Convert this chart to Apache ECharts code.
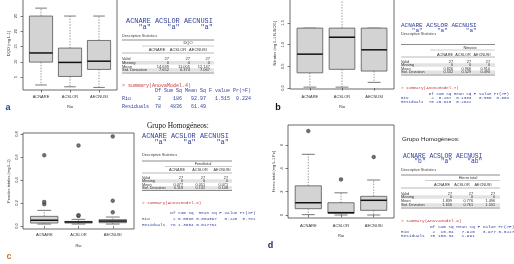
<!DOCTYPE html>
<html>
<head>
<meta charset="utf-8">
<script src="https://cdn.jsdelivr.net/npm/echarts@6/dist/echarts.min.js"></script>
<style>
  html, body { margin: 0; padding: 0; background: #fff; }
  #chart { width: 514px; height: 264px; }
</style>
</head>
<body>
<div id="chart"></div>
<script>
const categories = ['ACNARE', 'ACSLOR', 'AECNUSI'];

// boxplots: [min, Q1, median, Q3, max] per river
const dqoBox = [[2.4, 9.9, 12.9, 25, 27.6], [1.8, 5.2, 9.8, 14.5, 25], [1.6, 7.5, 10.2, 17, 25]];
const dqoOut = [[], [], []];
const nitBox = [[0.02, 0.35, 0.78, 1.38, 1.38], [0.02, 0.43, 1.17, 1.38, 2.05], [0.13, 0.39, 0.88, 1.38, 1.38]];
const nitOut = [[], [], []];
const fenBox = [[0.017, 0.026, 0.05, 0.084, 0.136], [0.017, 0.026, 0.035, 0.04, 0.058], [0.017, 0.029, 0.043, 0.055, 0.078]];
const fenOut = [[0.19, 0.21, 0.615], [0.088, 0.095, 0.70], [0.12, 0.22, 0.78]];
const hieBox = [[0.03, 0.54, 1.05, 2.5, 5.2], [0.0, 0.15, 0.2, 1.05, 1.9], [0.0, 0.4, 1.26, 1.6, 3.0]];
const hieOut = [[7.2], [3.05], [4.97]];

const dqoTicks = [5, 10, 15, 20, 25];
const nitTicks = [0, 0.5, 1, 1.5];
const fenTicks = [0, 0.2, 0.4, 0.6, 0.8];
const hieTicks = [0, 2, 4, 6];

// homogeneous groups
const dqoGroups = ['"a"', '"a"', '"a"'];
const nitGroups = ['"a"', '"a"', '"a"'];
const fenGroups = ['"a"', '"a"', '"a"'];
const hieGroups = ['"b"', '"a"', '"ab"'];

// descriptive statistics
const statNames = ['Valid', 'Missing', 'Mean', 'Std. Deviation'];
const dqoStats = [['27', '27', '27'], ['0', '0', '0'], ['14.639', '11.005', '12.147'], ['7.652', '6.374', '7.067']];
const nitStats = [['27', '27', '27'], ['0', '0', '0'], ['0.826', '0.966', '0.910'], ['0.532', '0.529', '0.490']];
const fenStats = [['27', '27', '27'], ['0', '0', '0'], ['0.077', '0.051', '0.071'], ['0.118', '0.132', '0.148']];
const hieStats = [['27', '27', '27'], ['0', '0', '0'], ['1.839', '0.776', '1.496'], ['1.656', '0.761', '1.531']];

// anova tables
const anovaHead = ['Df', 'Sum Sq', 'Mean Sq', 'F value', 'Pr(>F)', ''];
const dqoAnova = [['Rio', '2', '186', '92.97', '1.515', '0.224', ''], ['Residuals', '78', '4836', '61.49', '', '', '']];
const nitAnova = [['Rio', '2', '0.267', '0.1333', '0.505', '0.604', ''], ['Residuals', '78', '20.615', '0.2642', '', '', '']];
const fenAnova = [['Rio', '2', '0.0088', '0.004397', '0.248', '0.781', ''], ['Residuals', '78', '1.3854', '0.017761', '', '', '']];
const hieAnova = [['Rio', '2', '15.84', '7.920', '3.977', '0.0227', '*'], ['Residuals', '78', '155.34', '1.991', '', '', '']];

const BLUE = '#2d3c9a';
const MONO = '"Liberation Mono", monospace';
const SANS = '"Liberation Sans", Arial, sans-serif';

function rVector(vals) {
  return vals.map((v, i) => v.padStart(categories[i].length)).join(' ');
}

function anovaLines(rows) {
  const widths = anovaHead.map((h, c) => Math.max(h.length, ...rows.map(r => r[c + 1].length)));
  const line = (name, cells) => name.padEnd(11) + cells.map((v, c) => (c === 5 ? v : v.padStart(widths[c]))).join(' ');
  return [line('', anovaHead)].concat(rows.map(r => line(r[0], r.slice(1))));
}

function txt(x, y, text, font, fill, align) {
  return {
    type: 'text', x: x, y: y, silent: true,
    style: { text: text, font: font, fill: fill, align: align || 'left', textAlign: align || 'left',
      verticalAlign: 'middle', textVerticalAlign: 'middle' }
  };
}
function ln(x1, y1, x2, y2, color, w) {
  return { type: 'line', silent: true, shape: { x1: x1, y1: y1, x2: x2, y2: y2 }, style: { stroke: color, lineWidth: w } };
}

function statsBlock(L, title, groups, stats, model, anova) {
  const els = [];
  els.push(txt(L.nx, L.namesY, categories.join(' '), L.nfs + 'px ' + MONO, BLUE));
  els.push(txt(L.nx, L.lettersY, rVector(groups), L.nfs + 'px ' + MONO, BLUE));
  els.push(txt(L.x, L.descY, 'Descriptive Statistics', '3.8px ' + SANS, '#444'));
  stats.forEach((row, i) => {
    if (i % 2 === 1) {
      els.push({ type: 'rect', silent: true, shape: { x: L.x, y: L.rowY[i] - 1.8, width: L.r - L.x, height: 3.6 }, style: { fill: '#e2e2e2' } });
    }
  });
  els.push(ln(L.x, L.top, L.r, L.top, '#8c8c8c', 1));
  els.push(txt(L.titleX, L.titleY, title, L.fs + 'px ' + SANS, '#333', 'center'));
  els.push(ln(L.subX, L.subY, L.r, L.subY, '#9a9a9a', 0.5));
  categories.forEach((c, j) => els.push(txt(L.hdrX[j], L.hdrY, c, L.fs + 'px ' + SANS, '#333', 'center')));
  els.push(ln(L.x, L.hdrLine, L.r, L.hdrLine, '#8c8c8c', 0.6));
  stats.forEach((row, i) => {
    els.push(txt(L.x, L.rowY[i], statNames[i], L.fs + 'px ' + SANS, '#333'));
    row.forEach((v, j) => els.push(txt(L.valX[j], L.rowY[i], v, L.fs + 'px ' + SANS, '#333', 'right')));
  });
  els.push(ln(L.x, L.bottom, L.r, L.bottom, '#8c8c8c', 1));
  els.push(txt(L.x, L.sumY, '> summary(' + model + ')', L.afs + 'px ' + MONO, '#cc3a3a'));
  anovaLines(anova).forEach((s, k) => els.push(txt(L.x, L.aovY[k], s, L.afs + 'px ' + MONO, '#34449c')));
  return els;
}

const blocks = [
  statsBlock({ x: 122, r: 214, nx: 126, namesY: 21, lettersY: 27, nfs: 6.9, descY: 36, top: 40, titleX: 188, titleY: 43,
    subX: 142, subY: 46, hdrX: [157, 178, 198], hdrY: 50, hdrLine: 53, rowY: [59, 62.8, 66.5, 70], valX: [169, 190, 210],
    bottom: 73, fs: 4, sumY: 86, aovY: [91, 99, 107], afs: 5 }, 'DQO', dqoGroups, dqoStats, 'AnovaModel.4', dqoAnova),
  statsBlock({ x: 401, r: 495, nx: 401, namesY: 25, lettersY: 30, nfs: 6, descY: 33.5, top: 44.5, titleX: 470, titleY: 47.5,
    subX: 430, subY: 50, hdrX: [445, 463, 482], hdrY: 54.5, hdrLine: 57, rowY: [61.5, 65, 68.5, 72.3], valX: [453, 471, 490],
    bottom: 75, fs: 3.8, sumY: 88, aovY: [94, 98, 102], afs: 4.2 }, 'Nitratos', nitGroups, nitStats, 'AnovaModel.7', nitAnova),
  statsBlock({ x: 142, r: 232, nx: 142, namesY: 136, lettersY: 142, nfs: 6.9, descY: 155, top: 161, titleX: 203, titleY: 164,
    subX: 165, subY: 166.5, hdrX: [177, 200, 222], hdrY: 170, hdrLine: 173, rowY: [177.5, 181, 184.5, 188], valX: [183, 205, 228],
    bottom: 190.5, fs: 3.8, sumY: 203, aovY: [213, 219, 225], afs: 4.3 }, 'Fenoltotal', fenGroups, fenStats, 'AnovaModel.8', fenAnova),
  statsBlock({ x: 401, r: 500, nx: 403, namesY: 156, lettersY: 161, nfs: 6.3, descY: 170, top: 175, titleX: 468, titleY: 178,
    subX: 425, subY: 180.5, hdrX: [442, 462, 483], hdrY: 184.5, hdrLine: 188, rowY: [193.5, 197, 201, 205], valX: [452, 473, 495],
    bottom: 208, fs: 3.8, sumY: 221, aovY: [227, 231.5, 236], afs: 4.4 }, 'Hierro total', hieGroups, hieStats, 'AnovaModel.9', hieAnova)
].flat();

const panels = [
  { grid: { left: 23, top: -3, width: 94, height: 93 }, ymin: 0.754, ymax: 31.25, ticks: dqoTicks, dec: 0,
    yname: 'DQO (mg L-1)', box: dqoBox, out: dqoOut, xMargin: 5, xGap: 15, yMargin: 5, yGap: 12 },
  { grid: { left: 290, top: -3, width: 104, height: 92 }, ymin: -0.023, ymax: 2.097, ticks: nitTicks, dec: 1,
    yname: 'Nitratos (mg L-1 N-NO3-)', box: nitBox, out: nitOut, xMargin: 6, xGap: 16, yMargin: 5, yGap: 13 },
  { grid: { left: 23, top: 133, width: 111, height: 96 }, ymin: -0.026, ymax: 0.809, ticks: fenTicks, dec: 1,
    yname: 'Fenoles totales (mg L-1)', box: fenBox, out: fenOut, xMargin: 4, xGap: 15, yMargin: 4, yGap: 12 },
  { grid: { left: 288, top: 125, width: 106, height: 93 }, ymin: -0.257, ymax: 7.712, ticks: hieTicks, dec: 0,
    yname: 'Hierro total (mg L-1 Fe)', box: hieBox, out: hieOut, xMargin: 6, xGap: 16, yMargin: 4, yGap: 12 }
];

function renderBox(params, api) {
  const x = api.value(0);
  const lo = api.coord([x, api.value(1)]);
  const q1 = api.coord([x, api.value(2)]);
  const md = api.coord([x, api.value(3)]);
  const q3 = api.coord([x, api.value(4)]);
  const hi = api.coord([x, api.value(5)]);
  const w = api.size([0.8, 0])[0];
  const cx = lo[0];
  const cap = w / 4;
  const dash = { stroke: '#6a6a6a', lineWidth: 0.7, lineDash: [1.4, 1.4] };
  const solid = { stroke: '#555', lineWidth: 0.8 };
  return {
    type: 'group',
    children: [
      { type: 'line', shape: { x1: cx, y1: q3[1], x2: cx, y2: hi[1] }, style: dash },
      { type: 'line', shape: { x1: cx, y1: q1[1], x2: cx, y2: lo[1] }, style: dash },
      { type: 'line', shape: { x1: cx - cap, y1: hi[1], x2: cx + cap, y2: hi[1] }, style: solid },
      { type: 'line', shape: { x1: cx - cap, y1: lo[1], x2: cx + cap, y2: lo[1] }, style: solid },
      { type: 'rect', shape: { x: cx - w / 2, y: q3[1], width: w, height: q1[1] - q3[1] },
        style: { fill: '#d3d3d3', stroke: '#555', lineWidth: 0.8 } },
      { type: 'line', shape: { x1: cx - w / 2, y1: md[1], x2: cx + w / 2, y2: md[1] }, style: { stroke: '#111', lineWidth: 1.5 } }
    ]
  };
}

const grids = [], xAxes = [], yAxes = [], series = [];
panels.forEach((p, i) => {
  grids.push(Object.assign({ show: true, borderColor: '#444', borderWidth: 0.8, backgroundColor: 'transparent',
    containLabel: false, outerBoundsMode: 'none' }, p.grid));
  xAxes.push({
    gridIndex: i, type: 'value', min: 0.38, max: 3.62,
    name: 'Rio', nameLocation: 'middle', nameGap: p.xGap,
    nameTextStyle: { fontSize: 4, color: '#333', fontFamily: SANS },
    axisLine: { show: false }, splitLine: { show: false },
    axisTick: { show: true, length: 2.5, customValues: [1, 2, 3], lineStyle: { color: '#444', width: 0.7 } },
    axisLabel: { customValues: [1, 2, 3], margin: p.xMargin, fontSize: 4, color: '#333', fontFamily: SANS,
      formatter: v => categories[Math.round(v) - 1] }
  });
  yAxes.push({
    gridIndex: i, type: 'value', min: p.ymin, max: p.ymax,
    name: p.yname, nameLocation: 'middle', nameRotate: 90, nameGap: p.yGap,
    nameTextStyle: { fontSize: 4, color: '#333', fontFamily: SANS },
    axisLine: { show: false }, splitLine: { show: false },
    axisTick: { show: true, length: 2.5, customValues: p.ticks, lineStyle: { color: '#444', width: 0.7 } },
    axisLabel: { customValues: p.ticks, rotate: 90, margin: p.yMargin, fontSize: 4, color: '#333', fontFamily: SANS,
      formatter: v => Number(v).toFixed(p.dec) }
  });
  series.push({
    type: 'custom', xAxisIndex: i, yAxisIndex: i, clip: true,
    encode: { x: 0, y: [1, 2, 3, 4, 5] },
    data: p.box.map((b, k) => [k + 1].concat(b)),
    renderItem: renderBox
  });
  series.push({
    type: 'scatter', xAxisIndex: i, yAxisIndex: i, symbol: 'emptyCircle', symbolSize: 2.4,
    itemStyle: { color: '#444', borderWidth: 0.6 },
    data: p.out.flatMap((vals, k) => vals.map(v => [k + 1, v]))
  });
});

const extra = [
  txt(147, 126, 'Grupo Homogéneos:', '7.4px "Liberation Serif", serif', '#111'),
  txt(402, 139, 'Grupo Homogéneos:', '6.2px ' + SANS, '#222'),
  txt(8, 107.5, 'a', 'bold 9px ' + SANS, '#1f3f96', 'center'),
  txt(278, 108, 'b', 'bold 9px ' + SANS, '#111', 'center'),
  txt(9, 257, 'c', 'bold 9px ' + SANS, '#d9731c', 'center'),
  txt(270.5, 245.5, 'd', 'bold 9px ' + SANS, '#1a1f6e', 'center')
];

const chart = echarts.init(document.getElementById('chart'), null, { renderer: 'canvas' });
chart.setOption({
  animation: false,
  backgroundColor: '#fff',
  grid: grids,
  xAxis: xAxes,
  yAxis: yAxes,
  series: series,
  graphic: { elements: blocks.concat(extra) }
});
</script>
</body>
</html>
